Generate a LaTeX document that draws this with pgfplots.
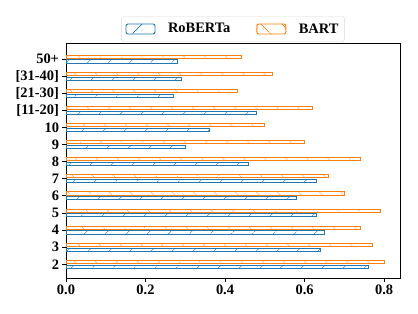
\documentclass[border=0pt]{standalone}
\usepackage{pgfplots}
\pgfplotsset{compat=1.18}
\usepackage{fontspec}
\setmainfont{Liberation Serif}
\usetikzlibrary{patterns.meta}
\definecolor{tabblue}{HTML}{1F77B4}
\definecolor{taborange}{HTML}{FF7F0E}
\begin{document}
\begin{tikzpicture}
\path[use as bounding box] (-66bp,-35.7bp) rectangle (352bp,278.3bp);
\begin{axis}[
  scale only axis,
  width=334bp, height=235bp,
  xmin=0, xmax=0.84,
  ymin=-0.82, ymax=12.92,
  xtick={0,0.2,0.4,0.6,0.8},
  ytick={0,1,2,3,4,5,6,7,8,9,10,11,12},
  yticklabels={2,3,4,5,6,7,8,9,10,{[11-20]},{[21-30]},{[31-40]},50+},
  xticklabel style={/pgf/number format/.cd,fixed,fixed zerofill,precision=1},
  /pgf/number format/assume math mode=true,
  tick label style={font=\bfseries\fontsize{14.5}{16}\selectfont},
  tick align=outside,
  xtick pos=bottom, ytick pos=left,
  major tick length=3.5bp,
  axis line style={black, line width=0.8bp},
  tick style={black, line width=0.8bp},
  xbar,
  bar width=0.18,
  legend columns=2,
  legend style={at={(0.5,1)}, anchor=south, yshift=1.6bp,
    draw=black!15, rounded corners=2bp, fill=white,
    font=\bfseries\fontsize{14.5}{16}\selectfont,
    inner xsep=4bp, inner ysep=5bp,
    /tikz/every even column/.append style={column sep=24bp}},
  legend image code/.code={\draw[#1] (0bp,-5bp) rectangle (29bp,5bp); \path[draw=none,fill=none] (29bp,0bp) -- (40bp,0bp);},
]
\addplot[draw=tabblue, line width=0.9bp, bar shift=-0.14,
  pattern={Lines[angle=45,distance=15bp,line width=0.7bp]}, pattern color=tabblue]
  coordinates {(0.76,0) (0.64,1) (0.65,2) (0.63,3) (0.58,4) (0.63,5) (0.46,6) (0.30,7) (0.36,8) (0.48,9) (0.27,10) (0.29,11) (0.28,12)};
\addlegendentry{RoBERTa}
\addplot[draw=taborange, line width=0.9bp, bar shift=0.14,
  pattern={Lines[angle=-45,distance=15bp,line width=0.7bp]}, pattern color=taborange]
  coordinates {(0.80,0) (0.77,1) (0.74,2) (0.79,3) (0.70,4) (0.66,5) (0.74,6) (0.60,7) (0.50,8) (0.62,9) (0.43,10) (0.52,11) (0.44,12)};
\addlegendentry{BART}
\end{axis}
\end{tikzpicture}
\end{document}
